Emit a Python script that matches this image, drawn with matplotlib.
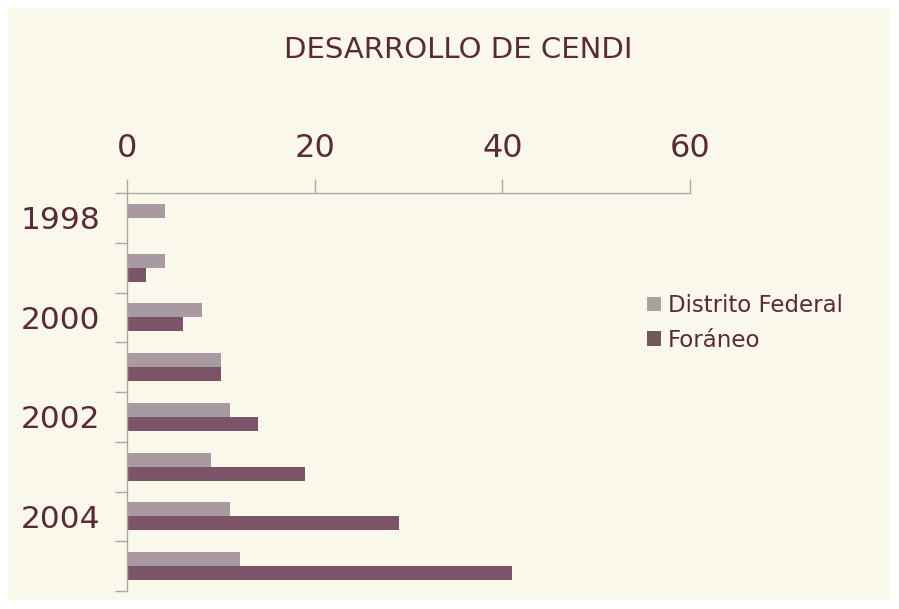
import matplotlib
matplotlib.use("Agg")
import matplotlib.pyplot as plt
from matplotlib.patches import Rectangle, Patch
import numpy as np

years = [1998, 1999, 2000, 2001, 2002, 2003, 2004, 2005]
year_labels = ["1998", "", "2000", "", "2002", "", "2004", ""]
distrito_federal = [4, 4, 8, 10, 11, 9, 11, 12]
foraneo = [0, 2, 6, 10, 14, 19, 29, 41]
x_ticks = [0, 20, 40, 60]

TXT = "#5a2a36"
BG = "#faf8ea"
C_DF = "#a89aa0"
C_F = "#7c5468"

fig = plt.figure(figsize=(8.99, 6.09), dpi=100, facecolor="white")
fig.patches.append(Rectangle((8/899, 9/609), 882/899, 592/609, transform=fig.transFigure,
                             facecolor=BG, edgecolor="none", zorder=-10))
ax = fig.add_axes([127/899, 1 - 591/609, 563/899, 398/609])
ax.set_facecolor("none")
ax.set_zorder(5)

y = np.arange(len(years))
h = 0.28
ax.barh(y - h/2, distrito_federal, height=h, color=C_DF, label="Distrito Federal")
ax.barh(y + h/2, foraneo, height=h, color=C_F, label="Foráneo")

ax.set_xlim(0, 60)
ax.set_ylim(len(years) - 0.5, -0.5)
ax.xaxis.tick_top()
ax.set_xticks(x_ticks)
ax.set_xticklabels([str(v) for v in x_ticks])
ax.tick_params(axis="x", direction="out", length=10, width=1, color="#aaaaaa",
               pad=11, labelsize=23, labelcolor=TXT)
ax.set_yticks(y)
ax.set_yticklabels(year_labels)
ax.set_yticks(np.arange(-0.5, len(years)), minor=True)
ax.tick_params(axis="y", which="major", length=0, pad=19.5, labelsize=22.5, labelcolor=TXT)
ax.tick_params(axis="y", which="minor", direction="out", length=9, width=1, color="#aaaaaa")

for s in ["right", "bottom"]:
    ax.spines[s].set_visible(False)
for s in ["top", "left"]:
    ax.spines[s].set_color("#aaaaaa")
    ax.spines[s].set_linewidth(1)

fig.text(458/899, 1 - 50/609, "DESARROLLO DE CENDI", ha="center", va="center",
         fontsize=21, color=TXT)

handles = [Patch(facecolor="#a6a29e", edgecolor="none"), Patch(facecolor="#6e5a58", edgecolor="none")]
fig.legend(handles, ["Distrito Federal", "Foráneo"], loc="upper left",
           bbox_to_anchor=(638/899, 1 - 285/609), frameon=False, fontsize=16.5,
           labelcolor=TXT, handlelength=0.6, handleheight=0.6, handletextpad=0.3,
           labelspacing=0.5, borderaxespad=0)

fig.savefig("out.png", dpi=100, facecolor="white")
